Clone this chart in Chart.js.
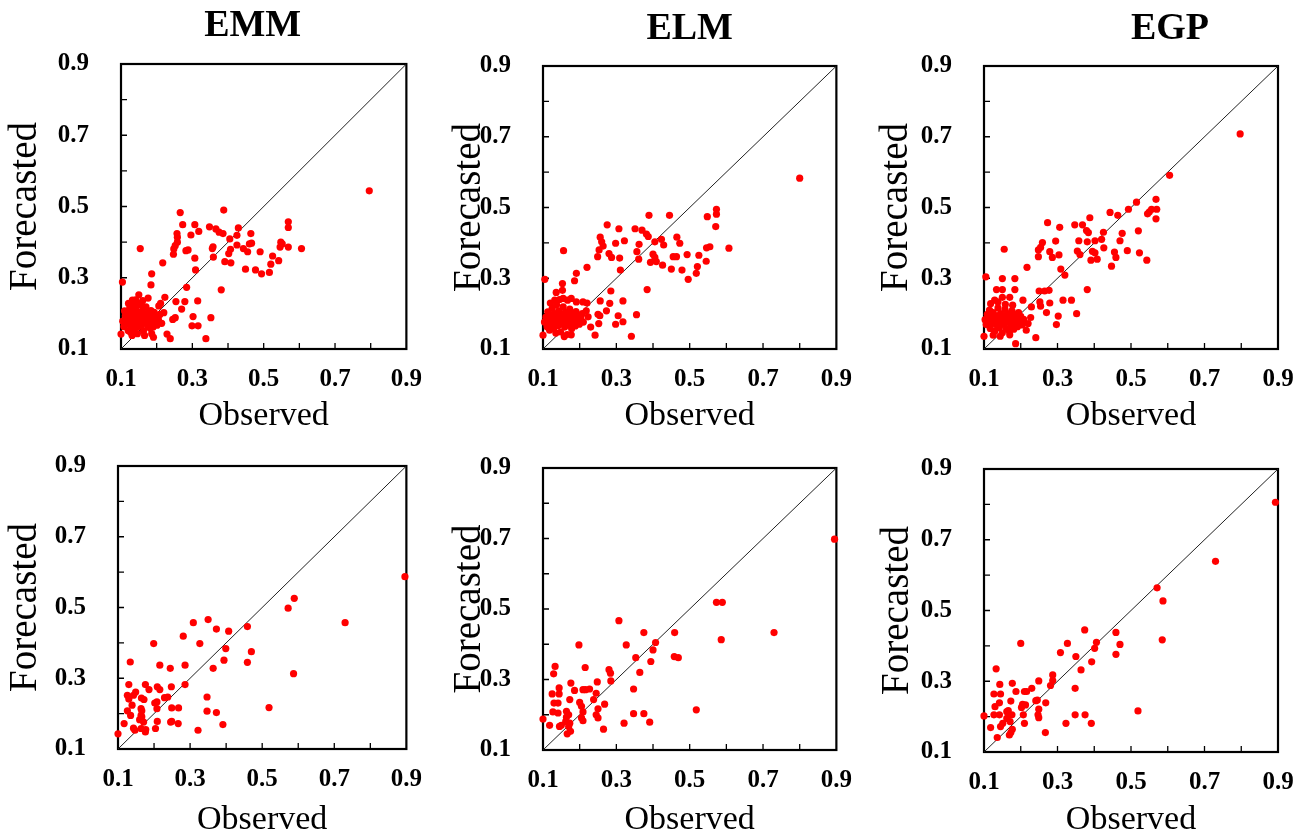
<!DOCTYPE html>
<html>
<head>
<meta charset="utf-8">
<title>Observed vs Forecasted</title>
<script src="https://cdn.jsdelivr.net/npm/chart.js@4.4.1/dist/chart.umd.min.js"></script>
<style>
    html, body { margin: 0; padding: 0; background: #fff; overflow: hidden; }
    #page { position: relative; width: 1304px; height: 837px; overflow: hidden; background: #fff; }
    #page canvas { position: absolute; }
</style>
</head>
<body>
<div id="page"></div>
<script>
// axis values shared by every panel
const AXIS_TICKS = [0.1, 0.3, 0.5, 0.7, 0.9];
const MINOR_TICKS = [0.2, 0.3, 0.4, 0.5, 0.6, 0.7, 0.8];
const IDENTITY = [0.1, 0.9];

// [observed, forecasted] pairs, upper row
const EMM_TRAIN = [
    [0.796,0.544],[0.266,0.483],[0.388,0.49],[0.273,0.449],[0.307,0.449],[0.348,0.443],[0.366,0.437],[0.375,0.428],
    [0.386,0.424],[0.429,0.44],[0.318,0.43],[0.296,0.42],[0.257,0.424],[0.258,0.414],[0.258,0.4],[0.252,0.39],
    [0.248,0.381],[0.282,0.376],[0.288,0.378],[0.425,0.419],[0.405,0.409],[0.425,0.392],[0.407,0.38],[0.402,0.368],
    [0.358,0.387],[0.356,0.382],[0.359,0.358],[0.391,0.345],[0.408,0.342],[0.307,0.355],[0.247,0.366],[0.154,0.382],
    [0.217,0.342],[0.186,0.311],[0.184,0.28],[0.309,0.322],[0.464,0.424],[0.466,0.397],[0.46,0.395],[0.443,0.382],
    [0.455,0.373],[0.49,0.373],[0.449,0.324],[0.477,0.322],[0.494,0.311],[0.516,0.315],[0.52,0.338],[0.525,0.361],
    [0.542,0.348],[0.548,0.4],[0.552,0.395],[0.546,0.386],[0.569,0.386],[0.569,0.441],[0.569,0.457],[0.606,0.382],
    [0.381,0.266],[0.104,0.288],[0.284,0.273],[0.279,0.233],[0.254,0.233],[0.315,0.235],[0.27,0.212],[0.252,0.188],
    [0.245,0.183],[0.302,0.191],[0.299,0.165],[0.316,0.165],[0.352,0.188],[0.338,0.129],[0.238,0.129],[0.229,0.142],
    [0.223,0.245],[0.211,0.228],[0.206,0.221],[0.22,0.202],[0.15,0.252],[0.132,0.237],[0.1,0.142],
    [0.105,0.178],[0.108,0.163],[0.112,0.193],[0.114,0.171],[0.117,0.204],[0.12,0.152],[0.121,0.184],[0.124,0.213],
    [0.126,0.167],[0.129,0.192],[0.131,0.177],[0.133,0.203],[0.136,0.157],[0.137,0.188],[0.139,0.172],[0.141,0.214],
    [0.143,0.197],[0.146,0.162],[0.147,0.182],[0.149,0.203],[0.151,0.228],[0.153,0.176],[0.156,0.193],[0.157,0.166],
    [0.16,0.207],[0.162,0.183],[0.163,0.151],[0.166,0.197],[0.168,0.173],[0.17,0.218],[0.172,0.188],[0.175,0.163],
    [0.176,0.202],[0.178,0.178],[0.181,0.193],[0.182,0.158],[0.184,0.208],[0.187,0.172],[0.189,0.187],[0.19,0.162],
    [0.193,0.203],[0.196,0.177],[0.198,0.192],[0.201,0.167],[0.205,0.182],[0.209,0.197],[0.214,0.172],[0.131,0.138],
    [0.146,0.143],[0.166,0.138],[0.186,0.143],[0.121,0.228],[0.141,0.238],[0.161,0.236],[0.176,0.243],[0.126,0.148],
    [0.191,0.133],[0.11,0.207],[0.158,0.222],[0.134,0.225]
];

const ELM_TRAIN = [
    [0.8,0.583],[0.573,0.495],[0.573,0.481],[0.548,0.474],[0.571,0.446],[0.445,0.478],[0.389,0.478],[0.275,0.451],
    [0.307,0.44],[0.351,0.44],[0.37,0.436],[0.382,0.425],[0.387,0.418],[0.256,0.416],[0.26,0.403],[0.298,0.399],
    [0.322,0.406],[0.264,0.391],[0.253,0.38],[0.249,0.361],[0.28,0.37],[0.287,0.359],[0.309,0.357],[0.362,0.396],
    [0.356,0.375],[0.361,0.354],[0.423,0.41],[0.429,0.394],[0.405,0.403],[0.4,0.368],[0.405,0.359],[0.409,0.347],
    [0.393,0.345],[0.426,0.337],[0.465,0.416],[0.473,0.399],[0.455,0.361],[0.464,0.361],[0.493,0.367],[0.525,0.365],
    [0.546,0.386],[0.555,0.389],[0.607,0.385],[0.545,0.348],[0.521,0.333],[0.518,0.314],[0.496,0.297],[0.479,0.323],
    [0.45,0.326],[0.311,0.323],[0.22,0.331],[0.156,0.378],[0.191,0.314],[0.186,0.293],[0.105,0.297],[0.153,0.285],
    [0.136,0.26],[0.153,0.266],[0.384,0.268],[0.285,0.264],[0.318,0.236],[0.282,0.229],[0.256,0.236],[0.273,0.208],
    [0.25,0.198],[0.255,0.194],[0.305,0.194],[0.355,0.197],[0.318,0.177],[0.298,0.17],[0.252,0.172],[0.23,0.162],
    [0.242,0.139],[0.341,0.136],[0.1,0.139],[0.22,0.23],[0.209,0.233],[0.191,0.233],[0.177,0.243],[0.155,0.243],
    [0.132,0.238],[0.218,0.208],[0.223,0.191],
    [0.104,0.176],[0.108,0.19],[0.111,0.163],[0.113,0.205],[0.116,0.181],[0.118,0.153],[0.12,0.197],[0.123,0.171],
    [0.125,0.215],[0.127,0.186],[0.13,0.16],[0.132,0.2],[0.134,0.177],[0.137,0.225],[0.139,0.192],[0.141,0.166],
    [0.143,0.208],[0.146,0.183],[0.148,0.148],[0.15,0.197],[0.152,0.172],[0.155,0.219],[0.157,0.188],[0.159,0.162],
    [0.161,0.204],[0.164,0.179],[0.166,0.141],[0.168,0.195],[0.171,0.168],[0.173,0.213],[0.175,0.184],[0.178,0.157],
    [0.18,0.199],[0.183,0.174],[0.185,0.19],[0.188,0.165],[0.19,0.206],[0.193,0.18],[0.196,0.194],[0.199,0.17],
    [0.203,0.186],[0.207,0.2],[0.21,0.176],[0.135,0.145],[0.158,0.135],[0.177,0.14],[0.12,0.23],[0.145,0.24],
    [0.167,0.238]
];

const EGP_TRAIN = [
    [0.797,0.708],[0.605,0.591],[0.568,0.523],[0.556,0.495],[0.55,0.488],[0.545,0.482],[0.57,0.495],[0.568,0.468],
    [0.515,0.515],[0.493,0.495],[0.464,0.478],[0.443,0.486],[0.388,0.471],[0.52,0.434],[0.523,0.372],[0.543,0.351],
    [0.49,0.378],[0.476,0.427],[0.47,0.406],[0.455,0.374],[0.459,0.359],[0.447,0.334],[0.425,0.43],[0.42,0.41],
    [0.426,0.386],[0.408,0.354],[0.402,0.372],[0.395,0.376],[0.391,0.351],[0.381,0.403],[0.384,0.429],[0.379,0.435],
    [0.368,0.451],[0.347,0.451],[0.358,0.406],[0.354,0.377],[0.361,0.367],[0.402,0.406],[0.306,0.444],[0.273,0.457],
    [0.295,0.405],[0.259,0.401],[0.254,0.387],[0.248,0.38],[0.248,0.361],[0.279,0.375],[0.286,0.359],[0.304,0.366],
    [0.309,0.326],[0.32,0.309],[0.217,0.331],[0.155,0.382],[0.105,0.304],[0.15,0.299],[0.184,0.299],[0.134,0.268],
    [0.15,0.268],[0.184,0.268],[0.381,0.268],[0.277,0.266],[0.25,0.264],[0.265,0.264],[0.315,0.238],[0.338,0.238],
    [0.252,0.233],[0.279,0.23],[0.254,0.221],[0.229,0.219],[0.27,0.203],[0.302,0.193],[0.297,0.169],[0.352,0.2],
    [0.241,0.132],[0.186,0.115],[0.1,0.136],[0.227,0.189],[0.22,0.172],[0.215,0.153],[0.206,0.238],[0.17,0.246],
    [0.15,0.246],[0.129,0.238],
    [0.103,0.183],[0.106,0.169],[0.109,0.198],[0.112,0.176],[0.115,0.21],[0.117,0.158],[0.12,0.189],[0.122,0.172],
    [0.125,0.203],[0.128,0.181],[0.13,0.151],[0.133,0.194],[0.135,0.168],[0.138,0.216],[0.14,0.185],[0.142,0.161],
    [0.145,0.2],[0.147,0.177],[0.15,0.146],[0.152,0.192],[0.154,0.171],[0.157,0.212],[0.159,0.186],[0.161,0.158],
    [0.164,0.2],[0.166,0.176],[0.169,0.15],[0.171,0.19],[0.173,0.165],[0.176,0.208],[0.178,0.181],[0.181,0.156],
    [0.183,0.197],[0.186,0.172],[0.188,0.188],[0.191,0.163],[0.194,0.203],[0.197,0.178],[0.2,0.192],[0.204,0.168],
    [0.208,0.184],[0.125,0.139],[0.144,0.136],[0.17,0.14],[0.118,0.228],[0.138,0.233],[0.158,0.226],[0.178,0.224]
];

// lower row
const EMM_TEST = [
    [0.896,0.587],[0.589,0.526],[0.572,0.498],[0.73,0.457],[0.587,0.313],[0.309,0.457],[0.35,0.466],[0.373,0.439],
    [0.407,0.433],[0.459,0.446],[0.281,0.419],[0.199,0.398],[0.327,0.398],[0.399,0.384],[0.47,0.375],[0.459,0.345],
    [0.394,0.351],[0.364,0.328],[0.134,0.346],[0.216,0.337],[0.245,0.328],[0.286,0.337],[0.13,0.282],[0.176,0.282],
    [0.186,0.268],[0.209,0.276],[0.216,0.268],[0.248,0.276],[0.286,0.282],[0.149,0.261],[0.143,0.252],[0.126,0.252],
    [0.13,0.241],[0.165,0.244],[0.172,0.24],[0.139,0.224],[0.202,0.23],[0.208,0.214],[0.229,0.245],[0.238,0.247],
    [0.347,0.247],[0.164,0.214],[0.166,0.208],[0.126,0.208],[0.135,0.195],[0.164,0.195],[0.166,0.191],[0.16,0.183],
    [0.171,0.176],[0.117,0.172],[0.143,0.159],[0.147,0.153],[0.176,0.148],[0.164,0.158],[0.1,0.143],[0.249,0.216],
    [0.268,0.216],[0.209,0.178],[0.204,0.158],[0.246,0.176],[0.249,0.178],[0.267,0.172],[0.347,0.207],[0.373,0.203],
    [0.391,0.169],[0.322,0.153],[0.519,0.217],[0.177,0.155],[0.208,0.233]
];

const ELM_TEST = [
    [0.895,0.698],[0.573,0.519],[0.589,0.519],[0.586,0.413],[0.73,0.433],[0.307,0.467],[0.375,0.433],[0.459,0.433],
    [0.407,0.405],[0.4,0.384],[0.394,0.351],[0.353,0.362],[0.458,0.365],[0.469,0.362],[0.198,0.398],[0.327,0.398],
    [0.215,0.334],[0.133,0.337],[0.129,0.316],[0.28,0.328],[0.284,0.318],[0.285,0.296],[0.364,0.32],[0.248,0.293],
    [0.176,0.29],[0.144,0.276],[0.186,0.269],[0.209,0.271],[0.216,0.271],[0.227,0.273],[0.245,0.261],[0.125,0.259],
    [0.144,0.259],[0.347,0.273],[0.13,0.233],[0.141,0.233],[0.173,0.243],[0.2,0.235],[0.205,0.224],[0.238,0.243],
    [0.268,0.23],[0.25,0.217],[0.127,0.208],[0.141,0.205],[0.164,0.21],[0.17,0.2],[0.164,0.193],[0.162,0.181],
    [0.173,0.176],[0.118,0.17],[0.145,0.167],[0.15,0.17],[0.209,0.208],[0.205,0.191],[0.209,0.183],[0.245,0.2],
    [0.25,0.191],[0.321,0.176],[0.347,0.203],[0.375,0.203],[0.391,0.179],[0.265,0.159],[0.166,0.146],[0.175,0.153],
    [0.1,0.188],[0.518,0.214],[0.17,0.167]
];

const EGP_TEST = [
    [0.893,0.806],[0.73,0.639],[0.571,0.564],[0.587,0.527],[0.585,0.417],[0.374,0.445],[0.459,0.438],[0.406,0.41],
    [0.401,0.393],[0.47,0.404],[0.459,0.376],[0.327,0.407],[0.2,0.407],[0.308,0.381],[0.35,0.37],[0.393,0.355],
    [0.364,0.332],[0.133,0.335],[0.287,0.318],[0.287,0.302],[0.281,0.288],[0.249,0.301],[0.177,0.294],[0.143,0.291],
    [0.187,0.271],[0.21,0.271],[0.216,0.271],[0.23,0.28],[0.127,0.264],[0.145,0.264],[0.348,0.28],[0.241,0.245],
    [0.245,0.247],[0.268,0.239],[0.173,0.244],[0.142,0.239],[0.13,0.228],[0.205,0.235],[0.213,0.233],[0.202,0.226],
    [0.249,0.221],[0.247,0.205],[0.249,0.197],[0.207,0.205],[0.21,0.181],[0.127,0.205],[0.142,0.205],[0.166,0.217],
    [0.169,0.205],[0.176,0.205],[0.162,0.195],[0.171,0.186],[0.151,0.181],[0.145,0.172],[0.118,0.169],[0.177,0.164],
    [0.173,0.155],[0.169,0.148],[0.136,0.141],[0.1,0.202],[0.267,0.155],[0.323,0.181],[0.348,0.205],[0.375,0.205],
    [0.392,0.181],[0.519,0.216],[0.162,0.214]
];

const SERIF = '"Liberation Serif", "Times New Roman", serif';

// canvas placement and plot box (relative to its canvas) for each panel
const panels = [
    { title: "EMM", data: EMM_TRAIN, left: 0,   top: 0,   w: 430, h: 440, plot: [121, 64, 414, 349], titleShift: -11, titleY: 26, yTitlePad: 2 },
    { title: "ELM", data: ELM_TRAIN, left: 430, top: 0,   w: 430, h: 440, plot: [113, 66, 407, 349], titleShift: 0,   titleY: 29, yTitlePad: 16 },
    { title: "EGP", data: EGP_TRAIN, left: 860, top: 0,   w: 444, h: 440, plot: [124, 66, 418, 349], titleShift: 39,  titleY: 29, yTitlePad: 13 },
    { title: "",    data: EMM_TEST,  left: 0,   top: 420, w: 430, h: 440, plot: [118, 46, 411, 329], titleShift: 0,   titleY: 0,  yTitlePad: 2 },
    { title: "",    data: ELM_TEST,  left: 430, top: 420, w: 430, h: 440, plot: [113, 48, 407, 330], titleShift: 0,   titleY: 0,  yTitlePad: 16 },
    { title: "",    data: EGP_TEST,  left: 860, top: 420, w: 444, h: 440, plot: [124, 49, 418, 332], titleShift: 0,   titleY: 0,  yTitlePad: 14 }
];

// bold model name above the plot box
const panelTitle = {
    id: "panelTitle",
    afterDraw(chart, args, opts) {
        if (!opts.text) return;
        const { ctx, chartArea } = chart;
        ctx.save();
        ctx.font = "bold 38px " + SERIF;
        ctx.fillStyle = "#000";
        ctx.textAlign = "center";
        ctx.textBaseline = "middle";
        ctx.fillText(opts.text, (chartArea.left + chartArea.right) / 2 + opts.shift, opts.y);
        ctx.restore();
    }
};

// closed frame with short inward tick marks on the bottom and left sides
const boxFrame = {
    id: "boxFrame",
    beforeDatasetsDraw(chart) {
        const { ctx, chartArea: a, scales } = chart;
        ctx.save();
        ctx.strokeStyle = "#000";
        ctx.lineWidth = 1.3;
        ctx.beginPath();
        MINOR_TICKS.forEach(v => {
            const x = scales.x.getPixelForValue(v);
            ctx.moveTo(x, a.bottom);
            ctx.lineTo(x, a.bottom - 6);
            const y = scales.y.getPixelForValue(v);
            ctx.moveTo(a.left, y);
            ctx.lineTo(a.left + 6, y);
        });
        ctx.stroke();
        ctx.lineWidth = 2.2;
        ctx.strokeRect(a.left, a.top, a.right - a.left, a.bottom - a.top);
        ctx.restore();
    }
};

const page = document.getElementById("page");

panels.forEach(p => {
    const canvas = document.createElement("canvas");
    canvas.width = p.w;
    canvas.height = p.h;
    canvas.style.left = p.left + "px";
    canvas.style.top = p.top + "px";
    canvas.style.width = p.w + "px";
    canvas.style.height = p.h + "px";
    page.appendChild(canvas);

    const tickFont = { family: SERIF, size: 25, weight: "bold" };
    const bottomRow = p.top > 0;

    new Chart(canvas, {
        type: "scatter",
        data: {
            datasets: [{
                data: p.data.map(([x, y]) => ({ x: x, y: y })),
                backgroundColor: "#ff0000",
                borderWidth: 0,
                pointRadius: 3.6,
                clip: false
            }, {
                data: IDENTITY.map(v => ({ x: v, y: v })),
                showLine: true,
                borderColor: "#222",
                borderWidth: 1,
                pointRadius: 0
            }]
        },
        options: {
            responsive: false,
            animation: false,
            events: [],
            layout: { padding: { left: 0, top: p.plot[1], right: p.w - p.plot[2], bottom: 0 } },
            plugins: {
                legend: { display: false },
                tooltip: { enabled: false },
                panelTitle: { text: p.title, shift: p.titleShift, y: p.titleY }
            },
            scales: {
                x: {
                    type: "linear",
                    min: 0.1,
                    max: 0.9,
                    grid: { display: false },
                    border: { display: false },
                    afterBuildTicks: s => { s.ticks = AXIS_TICKS.map(v => ({ value: v })); },
                    afterFit: s => { s.height = p.h - p.plot[3]; },
                    ticks: {
                        autoSkip: false,
                        maxRotation: 0,
                        padding: bottomRow ? 8 : 8,
                        color: "#000",
                        font: tickFont,
                        callback: v => v.toFixed(1)
                    },
                    title: {
                        display: true,
                        text: "Observed",
                        color: "#000",
                        font: { family: SERIF, size: 34 },
                        padding: { top: 0, bottom: bottomRow ? 20 : 4 }
                    }
                },
                y: {
                    type: "linear",
                    min: 0.1,
                    max: 0.9,
                    grid: { display: false },
                    border: { display: false },
                    afterBuildTicks: s => { s.ticks = AXIS_TICKS.map(v => ({ value: v })); },
                    afterFit: s => { s.width = p.plot[0]; },
                    ticks: {
                        autoSkip: false,
                        padding: 24,
                        color: "#000",
                        font: tickFont,
                        callback: v => v.toFixed(1)
                    },
                    title: {
                        display: true,
                        text: "Forecasted",
                        color: "#000",
                        font: { family: SERIF, size: 39 },
                        padding: { top: p.yTitlePad, bottom: 0 }
                    }
                }
            }
        },
        plugins: [panelTitle, boxFrame]
    });
});
</script>
</body>
</html>
